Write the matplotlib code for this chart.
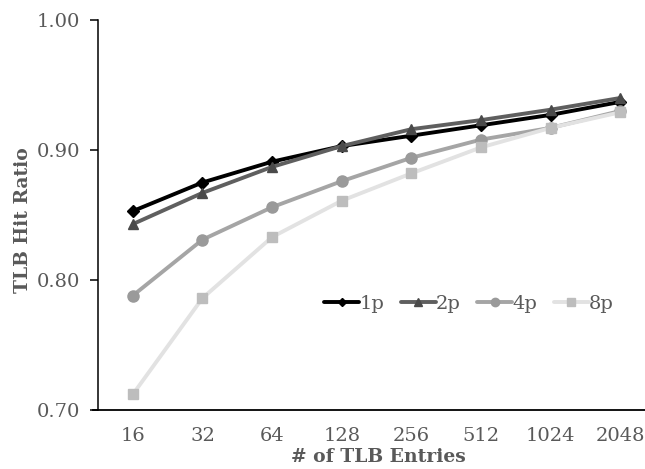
import matplotlib
matplotlib.use("Agg")
import matplotlib.pyplot as plt

categories = ["16", "32", "64", "128", "256", "512", "1024", "2048"]
series_names = ["1p", "2p", "4p", "8p"]
s1p = [0.853, 0.875, 0.891, 0.903, 0.911, 0.919, 0.927, 0.937]
s2p = [0.843, 0.867, 0.887, 0.903, 0.916, 0.923, 0.931, 0.940]
s4p = [0.788, 0.831, 0.856, 0.876, 0.894, 0.908, 0.917, 0.930]
s8p = [0.712, 0.786, 0.833, 0.861, 0.882, 0.902, 0.917, 0.929]
y_ticks = [0.70, 0.80, 0.90, 1.00]

plt.rcParams['font.family'] = ['DejaVu Serif']
text_color = '#595959'

W, H = 645, 469
fig = plt.figure(figsize=(W / 100, H / 100), dpi=100)
left, right, top, bottom = 98, 655, 20, 410
ax = fig.add_axes([left / W, 1 - bottom / H, (right - left) / W, (bottom - top) / H])

x = list(range(len(categories)))
styles = [
    dict(color='#000000', marker='D', markersize=6, mfc='#000000', mec='#000000'),
    dict(color='#5f5f5f', marker='^', markersize=7.5, mfc='#4a4a4a', mec='#4a4a4a'),
    dict(color='#a5a5a5', marker='o', markersize=8, mfc='#9a9a9a', mec='#9a9a9a'),
    dict(color='#e2e2e2', marker='s', markersize=7.5, mfc='#bdbdbd', mec='#bdbdbd'),
]
for name, vals, st in zip(series_names, [s1p, s2p, s4p, s8p], styles):
    ax.plot(x, vals, linewidth=2.8, label=name, solid_capstyle='round', zorder=3, **st)

ax.set_xlim(-0.5, len(categories) - 0.5)
ax.set_ylim(0.70, 1.00)
ax.set_yticks(y_ticks)
ax.set_yticklabels([f"{v:.2f}" for v in y_ticks])
ax.set_xticks(x)
ax.set_xticklabels(categories)

for s in ['top', 'right', 'bottom']:
    ax.spines[s].set_visible(False)
ax.spines['left'].set_color('#000000')
ax.spines['left'].set_linewidth(1.1)
ax.plot([-0.009, 1], [0, 0], transform=ax.transAxes, color='#000000',
        linewidth=1.3, clip_on=False, zorder=2)

ax.tick_params(axis='y', direction='out', length=6, width=1.1, color='#000000',
               labelsize=14, labelcolor=text_color, pad=7)
ax.tick_params(axis='x', length=0, labelsize=14, labelcolor=text_color, pad=12)

fig.text(23 / W, 1 - 220 / H, "TLB Hit Ratio", fontsize=13.5, fontweight='bold',
         color=text_color, ha='center', va='center', rotation=90)
fig.text(378 / W, 1 - 457 / H, "# of TLB Entries", fontsize=13.5, fontweight='bold',
         color=text_color, ha='center', va='center')

leg = ax.legend(loc='center', bbox_to_anchor=(469 / W, 1 - 304 / H),
                bbox_transform=fig.transFigure, ncol=4, frameon=False,
                fontsize=14, handlelength=1.8, handletextpad=0.0, columnspacing=0.85,
                markerscale=0.75)
for t in leg.get_texts():
    t.set_color(text_color)

fig.savefig("out.png", dpi=100)
